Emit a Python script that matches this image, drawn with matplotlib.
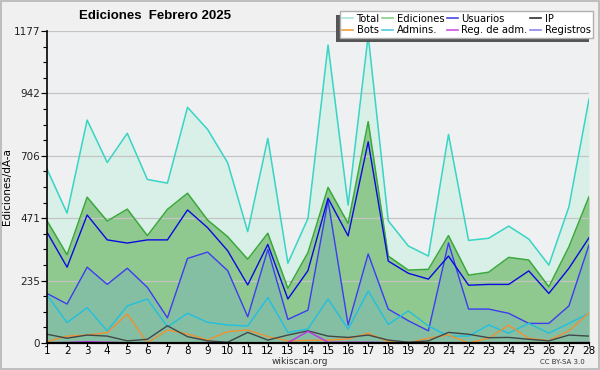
import matplotlib
matplotlib.use("Agg")
import matplotlib.pyplot as plt
from matplotlib.lines import Line2D
from matplotlib.patches import Rectangle

days = list(range(1, 29))
total = [656, 490, 841, 681, 791, 617, 603, 889, 806, 680, 420, 772, 301, 470,
         1124, 520, 1160, 461, 366, 328, 787, 387, 395, 441, 392, 294, 514, 920]
ediciones = [461, 333, 550, 460, 505, 405, 504, 565, 464, 401, 316, 414, 206, 341,
             587, 451, 835, 328, 275, 278, 405, 256, 267, 323, 313, 212, 363, 552]
usuarios = [418, 286, 483, 389, 377, 389, 389, 502, 435, 348, 219, 372, 166, 273,
            546, 404, 759, 309, 263, 241, 328, 218, 221, 221, 272, 187, 282, 397]
articulos = [187, 147, 286, 221, 282, 210, 95, 319, 343, 273, 99, 353, 89, 124,
             537, 68, 336, 128, 84, 46, 378, 128, 128, 112, 74, 74, 140, 370]
admins = [181, 77, 133, 46, 140, 166, 61, 112, 78, 68, 64, 171, 40, 53,
          166, 52, 196, 70, 121, 64, 26, 26, 68, 37, 74, 37, 74, 112]
bots = [5, 26, 30, 39, 109, 0, 49, 34, 11, 43, 49, 24, 8, 10,
        11, 15, 37, 5, 1, 18, 30, 0, 18, 67, 18, 9, 46, 114]
ip = [33, 18, 30, 26, 8, 14, 65, 24, 8, 3, 40, 11, 30, 46,
      26, 21, 30, 11, 3, 8, 40, 33, 20, 21, 14, 8, 30, 26]
reg_adm = [1, 2, 5, 3, 1, 1, 1, 1, 1, 1, 1, 1, 1, 44,
           3, 3, 3, 1, 1, 1, 1, 1, 1, 1, 1, 1, 1, 2]
registros = [1] * 28

ymax = 1177
yticks = [0, 235, 471, 706, 942, 1177]
title = "Ediciones  Febrero 2025"
ylabel = "Ediciones/dÃ-a"

legend_labels = ["Total", "Bots", "Ediciones", "Admins.", "Usuarios", "Reg. de adm.", "IP", "Registros"]
legend_colors = ["#a8e6dc", "#f0a040", "#88d088", "#50cce0", "#4848e8", "#d050e8", "#303030", "#8888f0"]

fig = plt.figure(figsize=(6.0, 3.7), dpi=100)
fig.patch.set_facecolor("#f0f0f0")
fig.patches.append(Rectangle((0.001, 0.002), 0.997, 0.995, transform=fig.transFigure,
                             fill=False, edgecolor="#b4b4b4", linewidth=1.2, zorder=0))
ax = fig.add_axes([47/600, 1-343/370, (589-47)/600, (343-31)/370])
ax.set_facecolor("#eef0f2")

ax.fill_between(days, 0, total, color="#d8f0e8", linewidth=0, zorder=1)
ax.plot(days, total, color="#38d4c4", lw=1.1, zorder=6)
ax.fill_between(days, 0, ediciones, color="#90c990", linewidth=0, zorder=2)
ax.plot(days, ediciones, color="#3aa83a", lw=1.1, zorder=6)
ax.fill_between(days, 0, articulos, color="#84bfa4", linewidth=0, zorder=3)
ax.plot(days, articulos, color="#3c3cf0", lw=1.0, zorder=6)
ax.plot(days, usuarios, color="#0a0ae0", lw=1.0, zorder=7)
ax.plot(days, admins, color="#20c0e0", lw=1.0, zorder=6)
ax.plot(days, bots, color="#f09030", lw=1.0, zorder=6)
ax.plot(days, ip, color="#404848", lw=1.0, zorder=6)
ax.plot(days, registros, color="#8080f0", lw=1.0, zorder=6)
ax.plot(days, reg_adm, color="#c030e8", lw=1.0, zorder=6)

ax.set_xlim(1, 28)
ax.set_ylim(0, ymax)
ax.set_xticks(days)
ax.set_xticklabels([str(d) for d in days], fontsize=7.5)
ax.set_yticks(yticks)
ax.set_yticklabels([str(v) for v in yticks], fontsize=7.5, color="#222222")
ax.set_yticks([ymax * i / 20 for i in range(21)], minor=True)
ax.tick_params(axis="y", which="major", length=4, width=0.8, pad=1)
ax.tick_params(axis="y", which="minor", length=3, width=0.8)
ax.tick_params(axis="x", which="major", length=2.5, width=0.8, pad=0)
ax.grid(axis="y", which="major", color="#c4c4c4", lw=0.9, zorder=0)
ax.set_axisbelow(False)
for s in ["top", "right"]:
    ax.spines[s].set_visible(False)
ax.spines["left"].set_linewidth(1.2)
ax.spines["bottom"].set_linewidth(1.6)
ax.spines["left"].set_zorder(10)
ax.spines["bottom"].set_zorder(10)

ax.set_ylabel(ylabel, fontsize=7.5, labelpad=1)
fig.text(155/600, 1-16/370, title, ha="center", va="center", fontsize=9.5,
         fontweight="bold", family="Liberation Sans")
fig.text(300/600, 1-362/370, "wikiscan.org", ha="center", va="center", fontsize=6.5, color="#333333")
fig.text(562/600, 1-362/370, "CC BY-SA 3.0", ha="center", va="center", fontsize=5, color="#333333")

handles = [Line2D([0], [0], color=c, lw=1.2) for c in legend_colors]
leg = fig.legend(handles, legend_labels, ncol=4, loc="upper right",
                 bbox_to_anchor=(593/600, 1-11/370), fontsize=7.2,
                 frameon=True, fancybox=False, edgecolor="#b0b0b0",
                 handlelength=1.1, handletextpad=0.35, columnspacing=0.25,
                 labelspacing=0.15, borderpad=0.25, borderaxespad=0)
leg.get_frame().set_facecolor("white")
leg.get_frame().set_alpha(1)
leg.set_zorder(20)

fig.canvas.draw()
bb = leg.get_window_extent()
fig.patches.append(Rectangle((bb.x0 - 4, bb.y0 - 4), bb.width, bb.height,
                             transform=None, facecolor="#555555", edgecolor="none", zorder=19))

fig.savefig("out.png", dpi=100, facecolor=fig.get_facecolor())
